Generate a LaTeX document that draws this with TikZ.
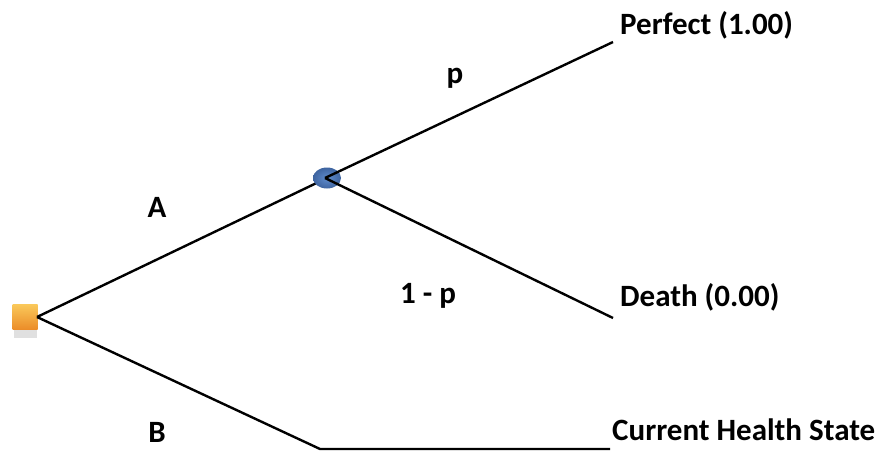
\documentclass[tikz,border=0pt]{standalone}
\usepackage{fontspec}
\setmainfont{Carlito}[BoldFont={Carlito Bold}]
\usetikzlibrary{shapes.geometric,shadings}
\definecolor{chanceblue}{RGB}{62,100,160}
\definecolor{chancelight}{RGB}{95,140,205}
\definecolor{decorange}{RGB}{235,140,40}
\definecolor{decyellow}{RGB}{250,200,90}
\begin{document}
\begin{tikzpicture}[x=1pt,y=-1pt,
  branch/.style={line width=2.4pt,black},
  lbl/.style={font=\bfseries\fontsize{31}{36}\selectfont,inner sep=0pt},
  endlbl/.style={lbl,anchor=west},
  decision/.style={minimum size=25pt,inner sep=0pt,draw=none,
    top color=decyellow,bottom color=decorange},
  chance/.style={ellipse,minimum width=28pt,minimum height=21pt,inner sep=0pt,
    inner color=chancelight,outer color=chanceblue}]
\useasboundingbox (0,0) rectangle (886,452);
% decision box with soft shadow
\fill[black!12] (14,330) rectangle (37,338);
\node[decision] (dec) at (25,317) {};
\coordinate (decR) at (37,317);
% chance node
\coordinate (ch) at (327,178);
\coordinate (perf) at (613,42);
\coordinate (death) at (613,318);
\coordinate (bknee) at (320,449);
\coordinate (bend) at (610,449);
\draw[branch] (decR) -- (ch);
\draw[branch] (decR) -- (bknee) -- (bend);
\node[chance] (chn) at (ch) {};
\draw[branch] ([xshift=-2pt]ch) -- (perf);
\draw[branch] ([xshift=-2pt]ch) -- (death);
% labels
\node[lbl] (lp) at (455,78) {p};
\node[lbl] (lA) at (157,207) {A};
\node[lbl] (l1p) at (428,296) {1 - p};
\node[lbl] (lB) at (157,432) {B};
\node[endlbl] (tperf) at (620,25) {Perfect (1.00)};
\node[endlbl] (tdeath) at (620,297) {Death (0.00)};
\node[endlbl] (tcur) at (612,430) {Current Health State};
\end{tikzpicture}
\end{document}
